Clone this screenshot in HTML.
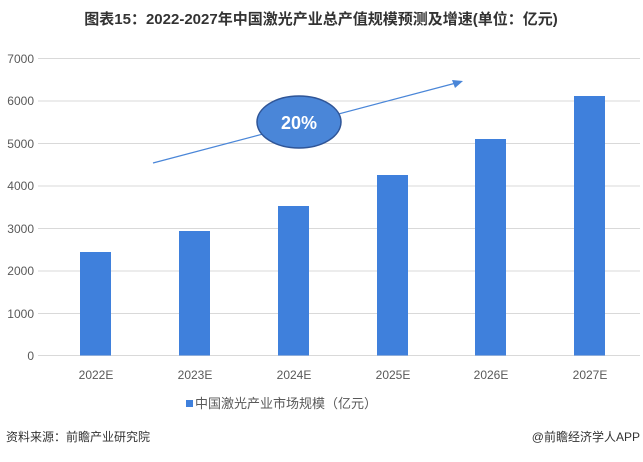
<!DOCTYPE html>
<html><head><meta charset="utf-8"><style>
body{margin:0;background:#fff;}
svg text{font-family:"Liberation Sans","Noto Sans CJK SC",sans-serif;}
</style></head><body>
<svg width="643" height="457" viewBox="0 0 643 457" xmlns="http://www.w3.org/2000/svg">
<text x="321" y="24" text-anchor="middle" font-size="15" font-weight="bold" fill="#333">图表15：2022-2027年中国激光产业总产值规模预测及增速(单位：亿元)</text>
<g stroke="#d9d9d9" stroke-width="1">
<line x1="38" y1="58.5" x2="640" y2="58.5"/><line x1="38" y1="101" x2="640" y2="101"/>
<line x1="38" y1="143.5" x2="640" y2="143.5"/><line x1="38" y1="186" x2="640" y2="186"/>
<line x1="38" y1="228.5" x2="640" y2="228.5"/><line x1="38" y1="271" x2="640" y2="271"/>
<line x1="38" y1="313.5" x2="640" y2="313.5"/><line x1="38" y1="355.5" x2="640" y2="355.5"/>
</g>
<g font-size="12" fill="#595959" text-anchor="end">
<text x="34" y="63">7000</text><text x="34" y="105">6000</text><text x="34" y="148">5000</text>
<text x="34" y="190">4000</text><text x="34" y="233">3000</text><text x="34" y="275">2000</text>
<text x="34" y="318">1000</text><text x="34" y="360">0</text>
</g>
<g fill="#3f80dc">
<rect x="80" y="252" width="31" height="103.5"/>
<rect x="179" y="231" width="31" height="124.5"/>
<rect x="278" y="206" width="31" height="149.5"/>
<rect x="377" y="175" width="31" height="180.5"/>
<rect x="475" y="139" width="31" height="216.5"/>
<rect x="574" y="96" width="31" height="259.5"/>
</g>
<g font-size="12" fill="#595959" text-anchor="middle">
<text x="96" y="379">2022E</text><text x="195" y="379">2023E</text><text x="294" y="379">2024E</text>
<text x="393" y="379">2025E</text><text x="491" y="379">2026E</text><text x="590" y="379">2027E</text>
</g>
<line x1="153" y1="163" x2="456" y2="83" stroke="#4a86d8" stroke-width="1.2"/>
<polygon points="463,81 452,80 455,88" fill="#4a86d8"/>
<ellipse cx="299" cy="122" rx="42" ry="26" fill="#4a86d8" stroke="#2f5597" stroke-width="1.5"/>
<text x="299" y="129" text-anchor="middle" font-size="18" font-weight="bold" fill="#fff">20%</text>
<rect x="186" y="400" width="7" height="7" fill="#3f80dc"/>
<text x="195" y="408" font-size="13" fill="#595959">中国激光产业市场规模（亿元）</text>
<text x="6" y="441" font-size="12" fill="#333">资料来源：前瞻产业研究院</text>
<text x="640" y="441" font-size="12" fill="#333" text-anchor="end">@前瞻经济学人APP</text>
</svg>
</body></html>
